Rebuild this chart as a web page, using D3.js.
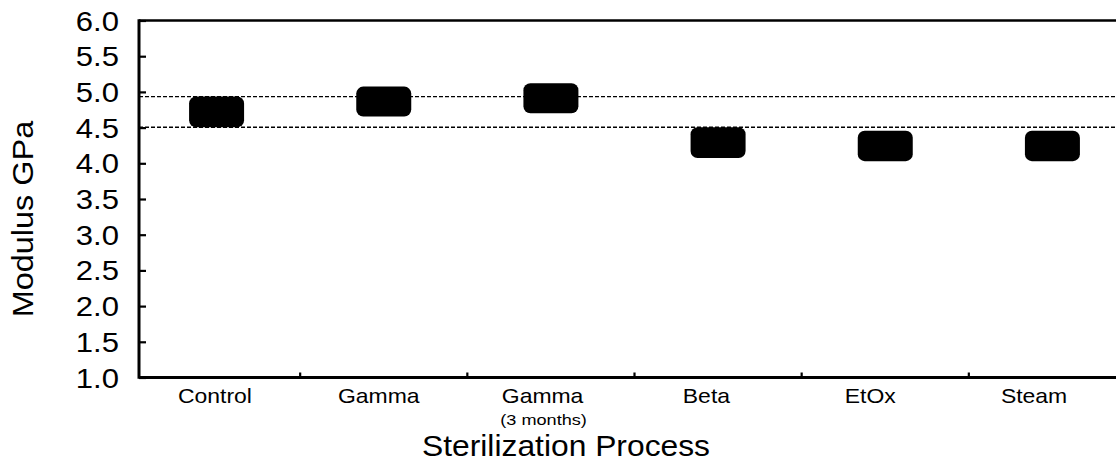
<!DOCTYPE html>
<html>
<head>
<meta charset="utf-8">
<script src="https://cdn.jsdelivr.net/npm/d3@7"></script>
<style>
  html, body { margin: 0; padding: 0; background: #fff; }
  svg { display: block; }
  text { font-family: "Liberation Sans", Arial, Helvetica, sans-serif; fill: #000; }
</style>
</head>
<body>
<svg id="chart" width="1116" height="463"></svg>
<script>
// ---- data ----
const categories = ["Control", "Gamma", "Gamma (3 months)", "Beta", "EtOx", "Steam"];
const mainLabels = ["Control", "Gamma", "Gamma", "Beta", "EtOx", "Steam"];
const subLabels  = ["", "", "(3 months)", "", "", ""];
const lowValues  = [4.505, 4.654, 4.701, 4.074, 4.030, 4.030];
const highValues = [4.935, 5.074, 5.122, 4.505, 4.457, 4.457];
const refLines   = [4.505, 4.935];
const yTicks     = [1.0, 1.5, 2.0, 2.5, 3.0, 3.5, 4.0, 4.5, 5.0, 5.5, 6.0];
const yTitle = "Modulus GPa";
const xTitle = "Sterilization Process";

// ---- layout ----
const svg = d3.select("#chart");
const xLeft = 139, xRight = 1116, yTop = 20.5, yBottom = 377.5;

const y = d3.scaleLinear().domain([1, 6]).range([yBottom, yTop]);
const x = d3.scaleBand().domain(categories).range([133, 1136]);
const xLab = d3.scaleBand().domain(categories).range([133, 1116]);

// dashed reference lines
svg.append("g").selectAll("line").data(refLines).join("line")
  .attr("x1", xLeft).attr("x2", xRight)
  .attr("y1", d => y(d)).attr("y2", d => y(d))
  .attr("stroke", "#000").attr("stroke-width", 1.3)
  .attr("stroke-dasharray", "4,2");

// boxes
const boxW = 55;
svg.append("g").selectAll("rect").data(categories).join("rect")
  .attr("x", (d) => x(d) + x.bandwidth() / 2 - boxW / 2)
  .attr("y", (d, i) => y(highValues[i]))
  .attr("width", boxW)
  .attr("height", (d, i) => y(lowValues[i]) - y(highValues[i]))
  .attr("rx", 7).attr("ry", 7)
  .attr("fill", "#000");

// y axis ticks (inward)
const yAxis = d3.axisRight(y).tickValues(yTicks).tickSize(7).tickFormat("");
const gy = svg.append("g").attr("transform", `translate(${xLeft},0)`).call(yAxis);
gy.select(".domain").remove();
gy.selectAll(".tick line").attr("stroke", "#000").attr("stroke-width", 2.2);

// x axis ticks at band boundaries (inward, up)
const boundaries = categories.slice(1).map(c => x(c));
const gx = svg.append("g");
gx.selectAll("line").data(boundaries).join("line")
  .attr("x1", d => d).attr("x2", d => d)
  .attr("y1", yBottom).attr("y2", yBottom - 5)
  .attr("stroke", "#000").attr("stroke-width", 2.2);

// frame lines: left, bottom, top
svg.append("line").attr("x1", xLeft).attr("x2", xLeft).attr("y1", yTop - 1.3).attr("y2", yBottom + 1.3)
  .attr("stroke", "#000").attr("stroke-width", 3);
svg.append("line").attr("x1", xLeft).attr("x2", xRight).attr("y1", yBottom).attr("y2", yBottom)
  .attr("stroke", "#000").attr("stroke-width", 3);
svg.append("line").attr("x1", xLeft).attr("x2", xRight).attr("y1", yTop).attr("y2", yTop)
  .attr("stroke", "#000").attr("stroke-width", 2.6);

// y tick labels
svg.append("g").selectAll("text").data(yTicks).join("text")
  .attr("transform", d => `translate(119,${y(d) + 10}) scale(1.15,1)`)
  .attr("text-anchor", "end")
  .attr("font-size", 27)
  .text(d => d3.format(".1f")(d));

// x tick labels
svg.append("g").selectAll("text").data(categories).join("text")
  .attr("transform", d => `translate(${xLab(d) + xLab.bandwidth() / 2},403) scale(1.12,1)`)
  .attr("text-anchor", "middle")
  .attr("font-size", 20.5)
  .text((d, i) => mainLabels[i]);
svg.append("g").selectAll("text").data(categories.filter((d, i) => subLabels[i])).join("text")
  .attr("transform", d => `translate(${xLab(d) + xLab.bandwidth() / 2 + 1},425) scale(1.17,1)`)
  .attr("text-anchor", "middle")
  .attr("font-size", 15.5)
  .text(d => subLabels[categories.indexOf(d)]);

// axis titles
svg.append("text")
  .attr("transform", "translate(566,456) scale(1.06,1)")
  .attr("text-anchor", "middle")
  .attr("font-size", 30)
  .text(xTitle);
svg.append("text")
  .attr("transform", "translate(33,219) rotate(-90) scale(1.12,1)")
  .attr("text-anchor", "middle")
  .attr("font-size", 29)
  .text(yTitle);
</script>
</body>
</html>
